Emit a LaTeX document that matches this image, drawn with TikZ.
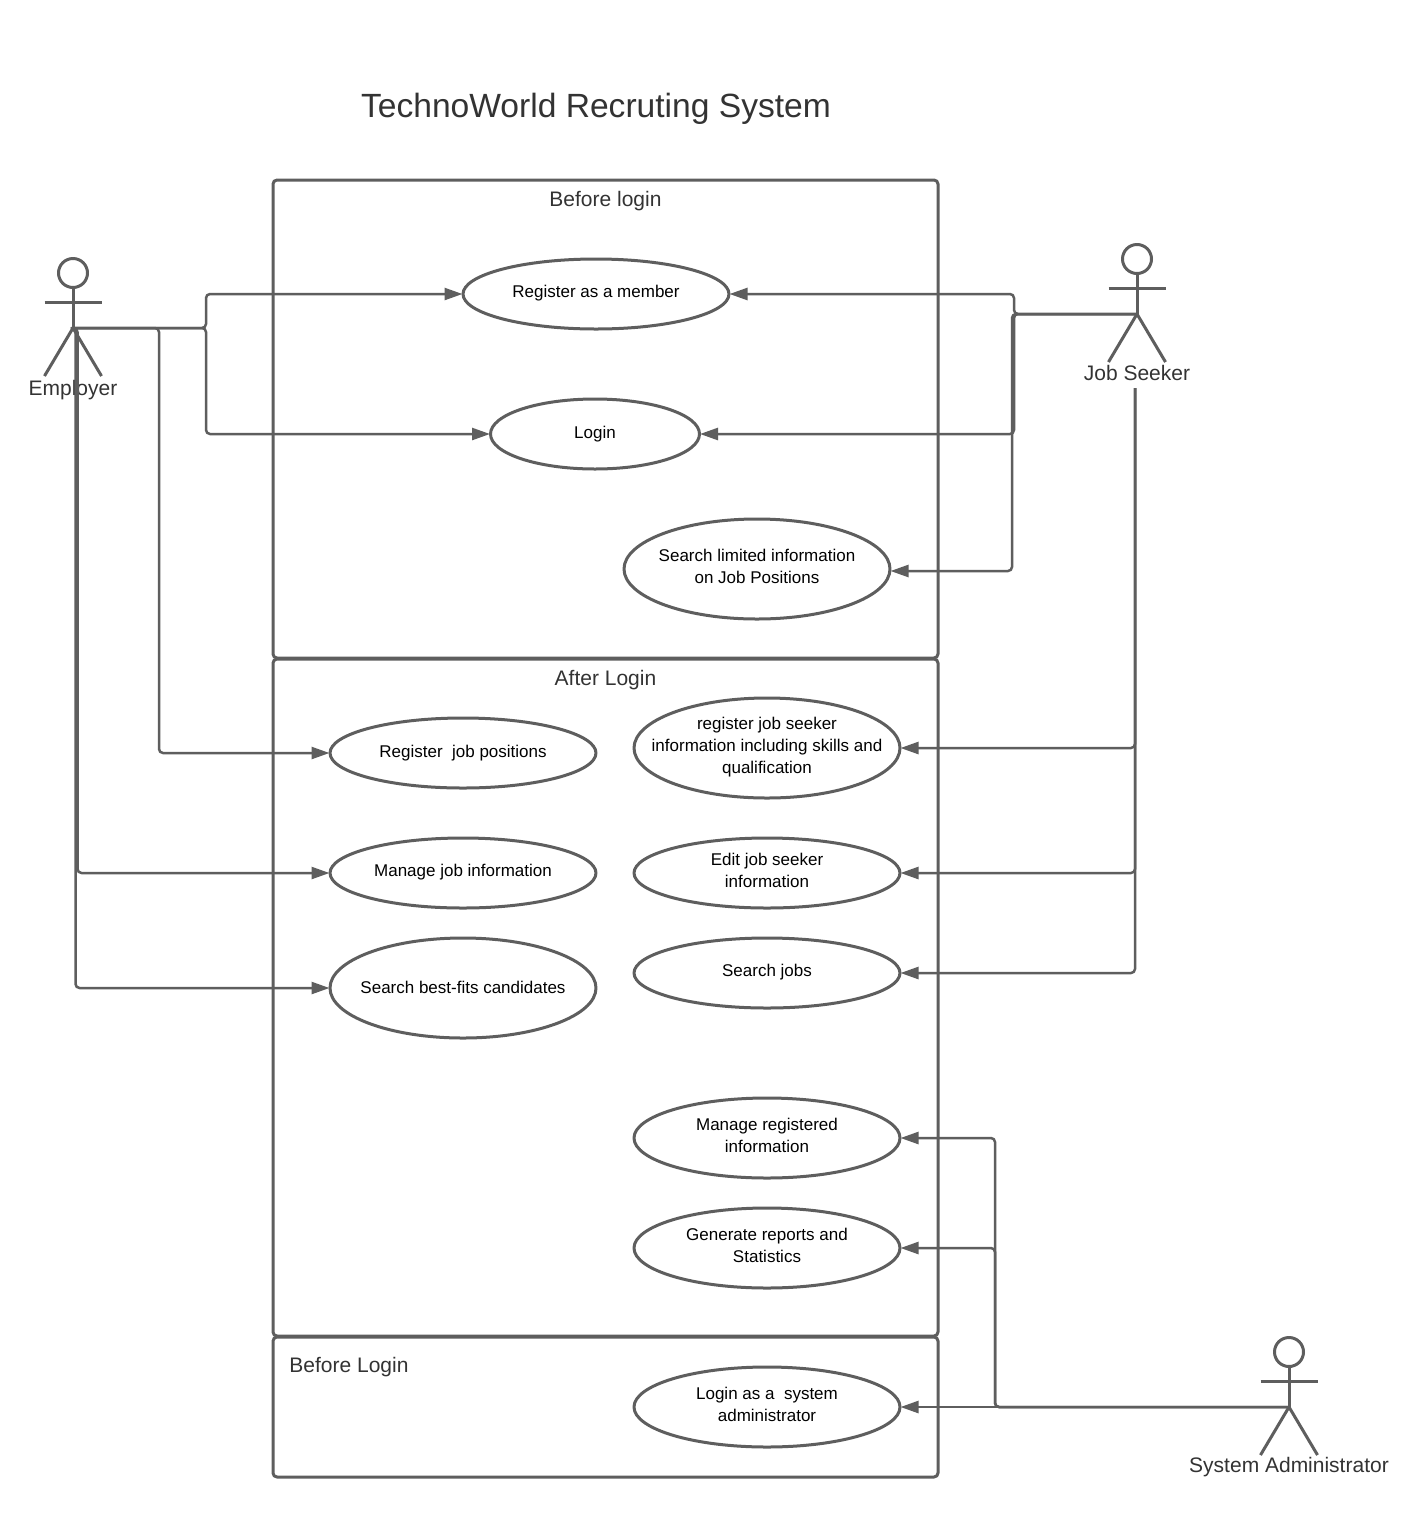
\documentclass[tikz,border=0pt]{standalone}
\usepackage{fontspec}
\setmainfont{Liberation Sans}
\usetikzlibrary{arrows.meta,shapes.geometric}
\definecolor{linegrey}{HTML}{5E5E5E}
\definecolor{textgrey}{HTML}{333333}
\newcommand{\stickman}[2]{% hip name, head name
  \draw[body] (#2.south) -- (#1);
  \draw[body] ([xshift=-28.5pt,yshift=26pt]#1) -- ([xshift=28.5pt,yshift=26pt]#1);
  \draw[body] ([xshift=-28.5pt,yshift=-48pt]#1) -- (#1) -- ([xshift=28.5pt,yshift=-48pt]#1);
}
\begin{document}
\begin{tikzpicture}[x=1pt, y=-1pt, line join=round,
    boundary/.style = {draw=linegrey, line width=3pt, rounded corners=4pt, inner sep=0pt},
    usecase/.style = {draw=linegrey, line width=3pt, ellipse, inner xsep=-70pt, inner ysep=-30pt, outer sep=0.5pt, minimum width=266pt, minimum height=70pt, align=center, text depth=6pt, font=\fontsize{17}{22}\selectfont, text=black},
    head/.style = {draw=linegrey, line width=3pt, circle, inner sep=0pt, minimum size=29pt},
    body/.style = {draw=linegrey, line width=3pt},
    heading/.style = {text=textgrey, inner sep=0pt, font=\fontsize{21}{26}\selectfont},
    link/.style = {draw=linegrey, line width=2.5pt, rounded corners=4pt, -{Triangle[length=18pt,width=12pt]}}]
    \useasboundingbox (0,0) rectangle (1408,1524);
    \fill[white] (0,0) rectangle (1408,1524);

    % title and system boundaries
    \node[text=textgrey, inner sep=0pt, font=\fontsize{33.6}{42}\selectfont] (title) at (596,109) {TechnoWorld Recruting System};
    \node[boundary, minimum width=665pt, minimum height=478pt] (beforebox) at (605.5,419) {};
    \node[boundary, minimum width=665pt, minimum height=677pt] (afterbox) at (605.5,997.5) {};
    \node[boundary, minimum width=665pt, minimum height=140pt] (adminbox) at (605.5,1407) {};
    \node[heading] (beforetitle) at (605.5,201) {Before login};
    \node[heading] (aftertitle) at (605.5,680) {After Login};
    \node[heading] (admintitle) at (349,1367) {Before Login};

    % use cases
    \node[usecase] (member) at (596,294) {Register as a member};
    \node[usecase, minimum width=209pt, text depth=4pt] (login) at (595,434) {Login};
    \node[usecase, minimum height=100pt] (limited) at (757,569) {Search limited information\\on Job Positions};
    \node[usecase, text depth=4pt] (positions) at (463,753) {Register\ \ job positions};
    \node[usecase] (managejob) at (463,873) {Manage job information};
    \node[usecase, minimum height=100pt, text depth=2pt] (bestfit) at (463,988) {Search best-fits candidates};
    \node[usecase, minimum height=100pt] (seekerinfo) at (767,748) {register job seeker\\information including skills and\\qualification};
    \node[usecase] (editinfo) at (767,873) {Edit job seeker\\information};
    \node[usecase] (searchjobs) at (767,973) {Search jobs};
    \node[usecase, minimum height=80pt] (manageinfo) at (767,1138) {Manage registered\\information};
    \node[usecase, minimum height=80pt] (reports) at (767,1248) {Generate reports and\\Statistics};
    \node[usecase, minimum height=80pt] (adminlogin) at (767,1407) {Login as a\ \ system\\administrator};

    % actors
    \node[head] (employerhead) at (73,273) {};
    \coordinate (employer) at (73,328);
    \stickman{employer}{employerhead}
    \node[heading] (employerlabel) at (73,390) {Employer};
    \node[head] (seekerhead) at (1137,259) {};
    \coordinate (seeker) at (1137,314);
    \stickman{seeker}{seekerhead}
    \node[heading] (seekerlabel) at (1137,372.5) {Job Seeker};
    \coordinate (seekerend) at (1135,388);
    \node[head] (adminhead) at (1289,1352) {};
    \coordinate (admin) at (1289,1407);
    \stickman{admin}{adminhead}
    \node[heading] (adminlabel) at (1289,1467) {System Administrator};

    % connectors
    \draw[link] (employer) -- (206,328) |- (member.west);
    \draw[link] (employer) -- (206,328) |- (login.west);
    \draw[link] (employer) -- (159,328) |- (positions.west);
    \draw[link] (employer) -- (77.5,328) |- (managejob.west);
    \draw[link] (employer) -- (75.5,328) |- (bestfit.west);
    \draw[link] (seeker) -- (1014,314) |- (member.east);
    \draw[link] (seeker) -- (1014,314) |- (login.east);
    \draw[link] (seeker) -- (1012,314) |- ([yshift=-2pt]limited.east);
    \draw[link] (seekerend) |- (seekerinfo.east);
    \draw[link] (seekerend) |- (editinfo.east);
    \draw[link] (seekerend) |- (searchjobs.east);
    \draw[link] (admin) -- (adminlogin.east);
    \draw[link] (admin) -- (995,1407) |- (reports.east);
    \draw[link] (admin) -- (995,1407) |- (manageinfo.east);
\end{tikzpicture}
\end{document}
